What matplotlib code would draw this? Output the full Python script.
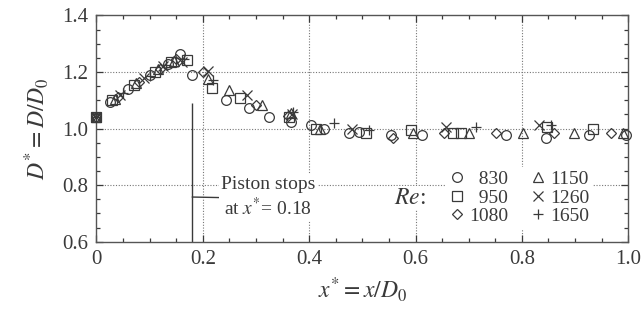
import matplotlib
matplotlib.use('Agg')
import matplotlib.pyplot as plt
from matplotlib.ticker import MultipleLocator, FixedFormatter, FixedLocator

# Data, one series per Reynolds number
re_labels = ['830', '950', '1080', '1150', '1260', '1650']
markers = ['o', 's', 'D', '^', 'x', '+']

x_830 = [0, 0.025, 0.06, 0.10, 0.135, 0.158, 0.18, 0.243, 0.286, 0.324, 0.365,
         0.403, 0.427, 0.474, 0.493, 0.553, 0.613, 0.77, 0.845, 0.926, 0.995]
y_830 = [1.04, 1.094, 1.14, 1.19, 1.23, 1.265, 1.19, 1.10, 1.072, 1.04, 1.023,
         1.012, 0.998, 0.984, 0.988, 0.977, 0.977, 0.977, 0.966, 0.977, 0.977]

x_950 = [0, 0.03, 0.07, 0.11, 0.14, 0.171, 0.218, 0.27, 0.362, 0.412, 0.506,
         0.591, 0.67, 0.685, 0.848, 0.933]
y_950 = [1.04, 1.10, 1.155, 1.20, 1.235, 1.242, 1.143, 1.107, 1.04, 1.0, 0.984,
         0.995, 0.984, 0.984, 1.005, 1.0]

x_1080 = [0, 0.04, 0.08, 0.12, 0.15, 0.20, 0.30, 0.36, 0.557, 0.653, 0.751,
          0.86, 0.967]
y_1080 = [1.04, 1.11, 1.165, 1.21, 1.245, 1.20, 1.085, 1.045, 0.967, 0.984,
          0.984, 0.984, 0.984]

x_1150 = [0, 0.035, 0.075, 0.115, 0.145, 0.21, 0.25, 0.312, 0.365, 0.42, 0.595,
          0.70, 0.803, 0.898, 0.99]
y_1150 = [1.04, 1.105, 1.16, 1.21, 1.24, 1.175, 1.136, 1.083, 1.054, 1.0, 0.985,
          0.984, 0.984, 0.984, 0.984]

x_1260 = [0, 0.045, 0.09, 0.125, 0.16, 0.21, 0.284, 0.368, 0.481, 0.657, 0.832]
y_1260 = [1.04, 1.12, 1.18, 1.22, 1.235, 1.205, 1.118, 1.05, 1.0, 1.005, 1.012]

x_1650 = [0, 0.05, 0.10, 0.13, 0.165, 0.22, 0.37, 0.446, 0.512, 0.713, 0.854]
y_1650 = [1.04, 1.125, 1.185, 1.225, 1.245, 1.17, 1.06, 1.02, 0.995, 1.005, 1.012]

xs = [x_830, x_950, x_1080, x_1150, x_1260, x_1650]
ys = [y_830, y_950, y_1080, y_1150, y_1260, y_1650]

piston_stop = 0.18
x_ticks = [0, 0.2, 0.4, 0.6, 0.8, 1.0]
x_tick_labels = ['0', '0.2', '0.4', '0.6', '0.8', '1.0']
y_ticks = [0.6, 0.8, 1.0, 1.2, 1.4]
y_tick_labels = ['0.6', '0.8', '1.0', '1.2', '1.4']

plt.rcParams['font.family'] = 'Liberation Serif'
plt.rcParams['mathtext.fontset'] = 'stix'

ink = '#3a3a3a'
figure = plt.figure(figsize=(6.43, 3.28), dpi=100)
axes = figure.add_axes([0.150, 0.263, 0.827, 0.690])

# Grid
axes.set_xlim(0, 1.0)
axes.set_ylim(0.6, 1.4)
for g in [0.2, 0.4, 0.6, 0.8]:
   axes.axvline(g, linestyle=(0, (1, 1.5)), color='#777777', linewidth=0.8, zorder=0)
for g in [0.8, 1.0, 1.2]:
   axes.axhline(g, linestyle=(0, (1, 1.5)), color='#777777', linewidth=0.8, zorder=0)

# Data
for i in range(len(xs)):
   axes.plot(xs[i], ys[i], linestyle='none', marker=markers[i],
             markersize=7 if markers[i] != 'D' else 5.6,
             markerfacecolor='none', markeredgecolor=ink, markeredgewidth=0.9,
             label='\u2007' * (4 - len(re_labels[i])) + re_labels[i],
             zorder=3, clip_on=False)

# Piston stop marker
axes.vlines(piston_stop, 0.6, 1.09, color=ink, linewidth=1.0, zorder=2)
axes.annotate('Piston stops\nat $x^{*}$= 0.18', xy=(piston_stop, 0.758),
              xytext=(0.323, 0.756), ha='center', va='center', fontsize=14,
              color=ink, linespacing=1.2,
              bbox=dict(facecolor='white', edgecolor='none', pad=1.5),
              arrowprops=dict(arrowstyle='-', color=ink, linewidth=1.0,
                              shrinkA=0, shrinkB=0,
                              relpos=(0.0, 0.5)), zorder=4)

# Legend
legend = axes.legend(ncol=2, loc='center', bbox_to_anchor=(0.795, 0.755),
                     bbox_transform=axes.transData, fontsize=14,
                     handlelength=0.8, handletextpad=0.25, columnspacing=1.1,
                     labelspacing=0.05, borderpad=0.2, frameon=True,
                     fancybox=False, framealpha=1.0, edgecolor='none',
                     facecolor='white')
for t in legend.get_texts():
   t.set_color(ink)
axes.text(0.59, 0.754, '$Re$:', fontsize=17, color=ink, ha='center',
          va='center', bbox=dict(facecolor='white', edgecolor='none', pad=1),
          zorder=4)

# Ticks
axes.xaxis.set_major_locator(FixedLocator(x_ticks))
axes.xaxis.set_major_formatter(FixedFormatter(x_tick_labels))
axes.yaxis.set_major_locator(FixedLocator(y_ticks))
axes.yaxis.set_major_formatter(FixedFormatter(y_tick_labels))
axes.xaxis.set_minor_locator(MultipleLocator(0.05))
axes.yaxis.set_minor_locator(MultipleLocator(0.05))
axes.tick_params(which='both', direction='in', top=True, right=True,
                 colors=ink, labelsize=15, width=0.9)
axes.tick_params(which='major', length=5, pad=6)
axes.tick_params(which='minor', length=3)
for spine in axes.spines.values():
   spine.set_color('#555555')
   spine.set_linewidth(1.0)

axes.set_xlabel('$x^{*} = x/D_{0}$', fontsize=17, color=ink, labelpad=4)
axes.set_ylabel('$D^{*} = D/D_{0}$', fontsize=17, color=ink, labelpad=8)

figure.savefig('out.png', dpi=100)
